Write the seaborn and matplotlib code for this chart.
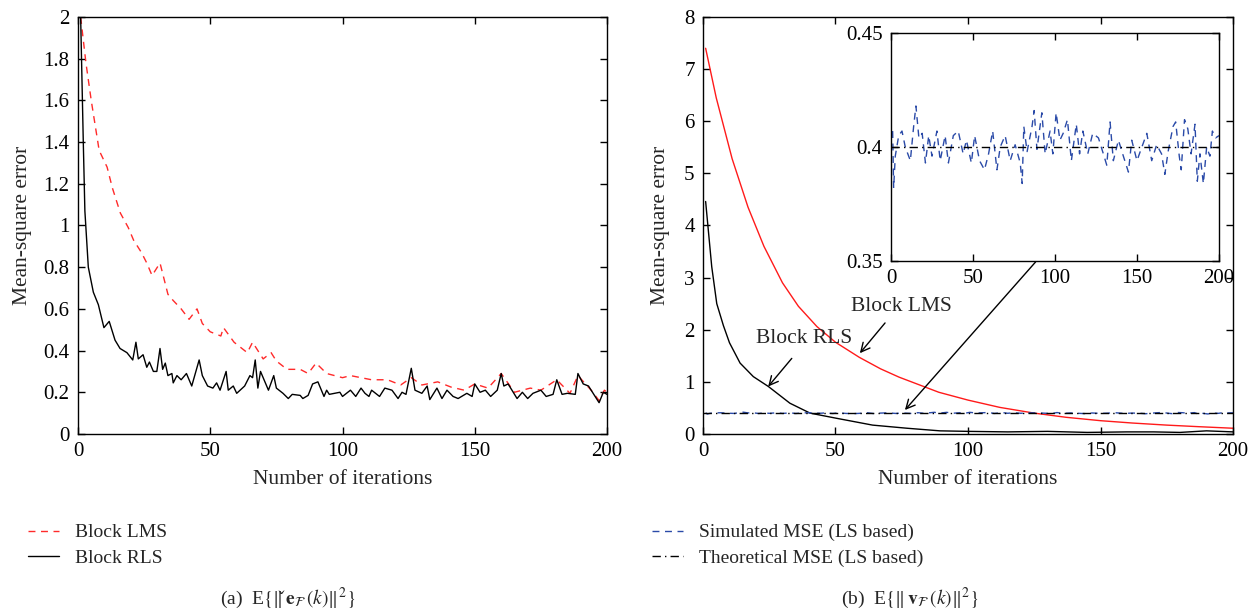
import numpy as np
import pandas as pd
import matplotlib
matplotlib.use('Agg')
import matplotlib.pyplot as plt
from matplotlib.lines import Line2D
import seaborn as sns

# (a) error of the block estimators
k_lms = [1, 3, 5, 8, 11, 13, 16, 19, 21, 24, 26, 28, 31, 34, 36, 39, 42, 45, 47, 50,
         54, 55, 59, 64, 66, 70, 73, 75, 79, 84, 87, 90, 94, 100, 103, 107, 111, 117, 122, 126,
         130, 136, 141, 146, 150, 155, 160, 165, 171, 175, 181, 186, 189, 194, 197, 199, 200]
mse_lms = [2.0, 1.78, 1.60, 1.36, 1.28, 1.18, 1.06, 0.99, 0.93, 0.87, 0.82, 0.76, 0.82, 0.67, 0.64, 0.60, 0.55, 0.60, 0.53, 0.49,
           0.47, 0.51, 0.44, 0.39, 0.44, 0.36, 0.39, 0.35, 0.31, 0.31, 0.29, 0.34, 0.29, 0.27, 0.28, 0.27, 0.26, 0.26, 0.235, 0.27,
           0.235, 0.25, 0.225, 0.21, 0.24, 0.22, 0.29, 0.20, 0.22, 0.21, 0.26, 0.195, 0.28, 0.21, 0.16, 0.21, 0.20]

k_rls = [1, 2, 2.6, 3.9, 5.8, 7.7, 9.8, 11.8, 14, 15.9, 18.5, 20.7, 21.9, 22.8, 24.6, 26, 27, 28.5, 29.8, 31,
         32, 33, 34, 35.5, 36, 37.4, 39, 41, 43, 45.8, 47, 49, 51, 52.4, 53.7, 56, 56.8, 58.7, 60, 63,
         65, 66, 67, 68, 69, 72, 74, 75, 77.5, 79.5, 81, 84, 85, 87, 88.7, 90.7, 93, 94, 95, 99,
         100, 103, 105, 107, 108.5, 110, 111, 114, 116, 118.7, 121, 122.5, 124, 126, 127.4, 130, 132, 133, 135.7, 137.6,
         139.5, 141.8, 143.7, 147, 149, 150, 152, 154, 156, 158.5, 160, 161, 162.6, 166, 168, 170, 172, 175, 177, 179.6,
         181, 183, 185, 188, 189, 191, 193, 195, 197, 198.6, 200]
mse_rls = [2.0, 1.40, 1.07, 0.80, 0.68, 0.62, 0.51, 0.54, 0.45, 0.41, 0.39, 0.355, 0.44, 0.36, 0.38, 0.32, 0.345, 0.30, 0.30, 0.41,
           0.31, 0.34, 0.28, 0.29, 0.245, 0.28, 0.26, 0.29, 0.23, 0.355, 0.28, 0.23, 0.22, 0.245, 0.21, 0.30, 0.21, 0.23, 0.195, 0.23,
           0.28, 0.27, 0.355, 0.22, 0.30, 0.21, 0.28, 0.22, 0.195, 0.17, 0.19, 0.185, 0.17, 0.185, 0.24, 0.25, 0.18, 0.21, 0.19, 0.20,
           0.18, 0.21, 0.18, 0.22, 0.195, 0.18, 0.21, 0.18, 0.22, 0.21, 0.17, 0.20, 0.19, 0.315, 0.21, 0.195, 0.23, 0.165, 0.22, 0.17,
           0.21, 0.18, 0.17, 0.195, 0.18, 0.24, 0.20, 0.21, 0.18, 0.21, 0.29, 0.23, 0.24, 0.17, 0.20, 0.17, 0.195, 0.21, 0.18, 0.19,
           0.26, 0.19, 0.195, 0.19, 0.29, 0.24, 0.23, 0.19, 0.15, 0.20, 0.19]

# (b) noise estimation error, right panel
k_lms_b = [1, 5, 11, 17, 23, 30, 36, 43, 50, 59, 67, 74, 89, 100, 112, 125, 137, 150, 162, 175, 187, 200]
mse_lms_b = [7.40, 6.45, 5.28, 4.35, 3.60, 2.90, 2.45, 2.06, 1.76, 1.47, 1.25, 1.09, 0.80, 0.65, 0.51, 0.40, 0.32, 0.255, 0.21, 0.17, 0.14, 0.11]
k_rls_b = [1, 3.3, 5.2, 7.7, 10, 14, 19, 24.7, 32.8, 40.4, 50.5, 64, 77, 89.4, 100, 115, 130, 145, 160, 170, 180, 190, 200]
mse_rls_b = [4.46, 3.21, 2.50, 2.08, 1.75, 1.36, 1.10, 0.91, 0.59, 0.40, 0.30, 0.17, 0.11, 0.06, 0.05, 0.04, 0.05, 0.03, 0.04, 0.04, 0.03, 0.06, 0.04]

# simulated MSE (LS based), inset
k_sim = [1, 1.6, 2.6, 4.7, 6.7, 8.7, 11.8, 13.8, 15.2, 17, 19, 21, 23, 25, 28, 30, 33, 35, 38, 41,
         44, 46, 49, 51, 54, 57, 59.5, 62, 64.6, 66.6, 69.6, 72.7, 75.7, 78.8, 80, 81, 83, 86, 87.3, 89,
         92, 94, 97, 98.7, 100.7, 103, 105, 107.6, 110, 113, 115, 117, 120, 123, 126.5, 129.5, 131.6, 133.6, 135.6, 138.7,
         141.7, 144.8, 146.8, 150, 153, 156, 159, 162, 165, 167, 169, 172, 173.6, 175.8, 177, 179, 181, 183, 185.4, 186.8,
         188.4, 190.5, 192.5, 194.5, 196, 198, 200]
mse_sim = [0.407, 0.382, 0.396, 0.405, 0.407, 0.400, 0.394, 0.409, 0.418, 0.404, 0.406, 0.393, 0.405, 0.396, 0.407, 0.394, 0.405, 0.393, 0.405, 0.407,
           0.397, 0.403, 0.393, 0.405, 0.394, 0.390, 0.397, 0.407, 0.390, 0.400, 0.405, 0.394, 0.401, 0.393, 0.384, 0.409, 0.398, 0.409, 0.416, 0.399,
           0.415, 0.397, 0.407, 0.397, 0.415, 0.403, 0.406, 0.412, 0.394, 0.410, 0.397, 0.407, 0.397, 0.406, 0.404, 0.397, 0.392, 0.411, 0.394, 0.403,
           0.396, 0.389, 0.403, 0.394, 0.400, 0.406, 0.394, 0.401, 0.397, 0.388, 0.398, 0.409, 0.411, 0.396, 0.390, 0.412, 0.408, 0.397, 0.410, 0.385,
           0.397, 0.384, 0.400, 0.396, 0.407, 0.404, 0.405]
k_theory = [0, 200]
mse_theory = [0.4, 0.4]

sns.set_style('ticks')
plt.rcParams['font.family'] = ['Liberation Serif', 'DejaVu Serif']
plt.rcParams['mathtext.fontset'] = 'stix'
plt.rcParams['xtick.direction'] = 'in'
plt.rcParams['ytick.direction'] = 'in'
plt.rcParams['xtick.top'] = True
plt.rcParams['ytick.right'] = True
plt.rcParams['axes.edgecolor'] = 'black'
plt.rcParams['axes.linewidth'] = 1.0

TICK_FS = 15
LABEL_FS = 15.5


def fmt(v, _):
    return f'{v:g}'


def style_axes(ax, fs=TICK_FS):
    ax.tick_params(labelsize=fs, length=5, width=1, colors='black', pad=6)
    ax.xaxis.set_major_formatter(plt.FuncFormatter(fmt))
    ax.yaxis.set_major_formatter(plt.FuncFormatter(fmt))
    for s in ax.spines.values():
        s.set_visible(True)


fig = plt.figure(figsize=(12.56, 6.09), dpi=100)
ax1 = fig.add_axes([0.0621, 0.2874, 0.4212, 0.6847])
ax2 = fig.add_axes([0.5597, 0.2874, 0.4220, 0.6847])
ax3 = fig.add_axes([0.7094, 0.5714, 0.2611, 0.3744])

# left panel
sns.lineplot(x=k_lms, y=mse_lms, ax=ax1, color='#ff2a2a', linestyle=(0, (5, 4)), lw=1.0)
sns.lineplot(x=k_rls, y=mse_rls, ax=ax1, color='black', lw=1.0)
ax1.set_xlim(0, 200)
ax1.set_ylim(0, 2)
ax1.set_xticks(np.arange(0, 201, 50))
ax1.set_yticks(np.arange(0, 2.01, 0.2))
ax1.set_xlabel('Number of iterations', fontsize=LABEL_FS, labelpad=6)
ax1.set_ylabel('Mean-square error', fontsize=LABEL_FS, labelpad=8)
style_axes(ax1)

# right panel
sns.lineplot(x=k_lms_b, y=mse_lms_b, ax=ax2, color='#ff1a1a', lw=1.0)
sns.lineplot(x=k_rls_b, y=mse_rls_b, ax=ax2, color='black', lw=1.0)
sns.lineplot(x=k_sim, y=mse_sim, ax=ax2, color='#2a4aa8', linestyle=(0, (5, 4)), lw=1.0)
sns.lineplot(x=k_theory, y=mse_theory, ax=ax2, color='black', linestyle=(0, (6, 3, 1, 3)), lw=1.0)
ax2.set_xlim(0, 200)
ax2.set_ylim(0, 8)
ax2.set_xticks(np.arange(0, 201, 50))
ax2.set_yticks(np.arange(0, 9, 1))
ax2.set_xlabel('Number of iterations', fontsize=LABEL_FS, labelpad=6)
ax2.set_ylabel('Mean-square error', fontsize=LABEL_FS, labelpad=10)
style_axes(ax2)

arrow = dict(arrowstyle='->', color='black', lw=1.0, shrinkA=0, shrinkB=0, mutation_scale=16)
ax2.text(56, 2.44, 'Block LMS', fontsize=LABEL_FS, va='center', ha='left')
ax2.annotate('', xy=(59.2, 1.55), xytext=(68.7, 2.13), arrowprops=arrow)
ax2.text(20, 1.84, 'Block RLS', fontsize=LABEL_FS, va='center', ha='left')
ax2.annotate('', xy=(24.6, 0.91), xytext=(33.5, 1.45), arrowprops=arrow)
ax2.annotate('', xy=(76.2, 0.46), xytext=(125.5, 3.30), arrowprops=arrow)

# inset
sns.lineplot(x=k_sim, y=mse_sim, ax=ax3, color='#2a4aa8', linestyle=(0, (5, 4)), lw=1.0)
sns.lineplot(x=k_theory, y=mse_theory, ax=ax3, color='black', linestyle=(0, (6, 3, 1, 3)), lw=1.0)
ax3.set_xlim(0, 200)
ax3.set_ylim(0.35, 0.45)
ax3.set_xticks(np.arange(0, 201, 50))
ax3.set_yticks([0.35, 0.4, 0.45])
ax3.set_xlabel('')
ax3.set_ylabel('')
style_axes(ax3)

# legends under the panels
h_a = [Line2D([], [], color='#ff2a2a', linestyle=(0, (5, 4)), lw=1.0),
       Line2D([], [], color='black', lw=1.0)]
fig.legend(h_a, ['Block LMS', 'Block RLS'], loc='upper left', bbox_to_anchor=(0.0223, 0.14),
           frameon=False, fontsize=14, handlelength=1.6, handletextpad=0.8, labelspacing=0.4,
           borderpad=0, borderaxespad=0)
h_b = [Line2D([], [], color='#2a4aa8', linestyle=(0, (5, 4)), lw=1.0),
       Line2D([], [], color='black', linestyle=(0, (6, 3, 1, 3)), lw=1.0)]
fig.legend(h_b, ['Simulated MSE (LS based)', 'Theoretical MSE (LS based)'], loc='upper left',
           bbox_to_anchor=(0.519, 0.14), frameon=False, fontsize=14, handlelength=1.6,
           handletextpad=0.8, labelspacing=0.4, borderpad=0, borderaxespad=0)

fig.text(288 / 1256, 1 - 598 / 609, r'(a)  E$\{\|\,\check{\mathbf{e}}_{\mathcal{F}}\,(k)\|^2\}$',
         ha='center', va='center', fontsize=14)
fig.text(910 / 1256, 1 - 598 / 609, r'(b)  E$\{\|\,\mathbf{v}_{\mathcal{F}}\,(k)\|^2\}$',
         ha='center', va='center', fontsize=14)

fig.savefig('out.png', dpi=100)
